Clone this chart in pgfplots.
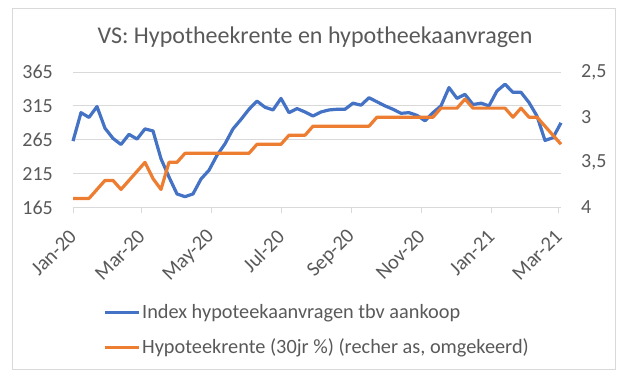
\documentclass[border=0pt]{standalone}
\usepackage{pgfplots}
\usepackage{pgfplotstable}
\pgfplotsset{compat=1.18}
\usepackage{fontspec}
\setmainfont{Carlito}
\definecolor{blueS}{HTML}{4472C4}
\definecolor{orangeS}{HTML}{ED7D31}
\definecolor{txt}{HTML}{595959}
\definecolor{gridc}{HTML}{D9D9D9}

\pgfplotstableread{
w idx rate
0 263 3.90
1 305 3.90
2 298 3.90
3 314 3.80
4 282 3.70
5 267 3.70
6 258 3.80
7 273 3.70
8 266 3.60
9 281 3.50
10 278 3.68
11 237 3.80
12 210 3.50
13 185 3.50
14 181 3.40
15 185 3.40
16 207 3.40
17 220 3.40
18 242 3.40
19 259 3.40
20 281 3.40
21 295 3.40
22 310 3.40
23 322 3.30
24 313 3.30
25 309 3.30
26 326 3.30
27 305 3.20
28 311 3.20
29 306 3.20
30 300 3.10
31 306 3.10
32 309 3.10
33 310 3.10
34 310 3.10
35 319 3.10
36 316 3.10
37 327 3.10
38 321 3.00
39 315 3.00
40 310 3.00
41 304 3.00
42 305 3.00
43 301 3.00
44 293 3.00
45 305 3.00
46 315 2.90
47 342 2.90
48 326 2.90
49 332 2.80
50 317 2.90
51 319 2.90
52 315 2.90
53 337 2.90
54 347 2.90
55 335 3.00
56 335 2.90
57 320 3.00
58 300 3.00
59 264 3.10
60 268 3.20
61 290 3.30
}\datatable

\begin{document}
\begin{tikzpicture}[x=1pt,y=1pt]
\path[use as bounding box] (0,0) rectangle (625,381);
\draw[gridc, line width=0.8pt] (12.5,12) rectangle (615.5,372.5);
\node[txt, font=\fontsize{24}{28}\selectfont] at (315,344) {VS: Hypotheekrente en hypotheekaanvragen};

\begin{axis}[
  at={(73pt,173.5pt)}, anchor=south west,
  scale only axis, width=488pt, height=135.5pt,
  xmin=0, xmax=61, ymin=165, ymax=365,
  clip=false,
  axis x line*=bottom, axis y line*=left,
  y axis line style={draw=none},
  x axis line style={gridc, line width=0.8pt, -},
  ytick={165,215,265,315,365},
  ytick style={draw=none},
  ymajorgrids, grid style={gridc, line width=0.8pt},
  xtick={0,8.571,17.286,26,34.857,43.571,52.286,60.714},
  xticklabels={Jan-20,Mar-20,May-20,Jul-20,Sep-20,Nov-20,Jan-21,Mar-21},
  xtick align=outside, major tick length=5pt,
  xtick style={gridc, line width=0.8pt},
  xticklabel style={txt, font=\fontsize{20.5}{24}\selectfont, rotate=45, anchor=east, inner sep=0pt},
  xticklabel shift=21pt,
  yticklabel style={txt, font=\fontsize{20}{24}\selectfont, inner sep=0pt, xshift=-20pt},
  /pgf/number format/assume math mode=true,
]
\addplot[blueS, line width=3.2pt, line join=round] table[x=w, y=idx] {\datatable};
\end{axis}

\begin{axis}[
  at={(73pt,173.5pt)}, anchor=south west,
  scale only axis, width=488pt, height=135.5pt,
  xmin=0, xmax=61, ymin=2.5, ymax=4, y dir=reverse,
  clip=false,
  axis x line=none, axis y line*=right,
  y axis line style={draw=none},
  ytick={2.5,3,3.5,4},
  ytick style={draw=none},
  yticklabel style={txt, font=\fontsize{20}{24}\selectfont, inner sep=0pt, xshift=20pt},
  /pgf/number format/assume math mode=true,
  /pgf/number format/use comma,
  legend style={at={(axis description cs:0.062,-0.905)}, anchor=west, draw=none, fill=none,
    font=\fontsize{20.3}{24}\selectfont, text=txt, row sep=13pt, inner sep=0pt,
    nodes={inner sep=1.5pt, text height=15pt, text depth=4pt}},
  legend cell align=left,
  legend image code/.code={\draw[#1] (0pt,0pt) -- (34pt,0pt);},
]
\addlegendimage{blueS, line width=3pt}
\addlegendentry{Index hypoteekaanvragen tbv aankoop}
\addplot[orangeS, line width=3.2pt, line join=round] table[x=w, y=rate] {\datatable};
\addlegendentry{Hypoteekrente (30jr \%) (recher as, omgekeerd)}
\end{axis}
\end{tikzpicture}
\end{document}
